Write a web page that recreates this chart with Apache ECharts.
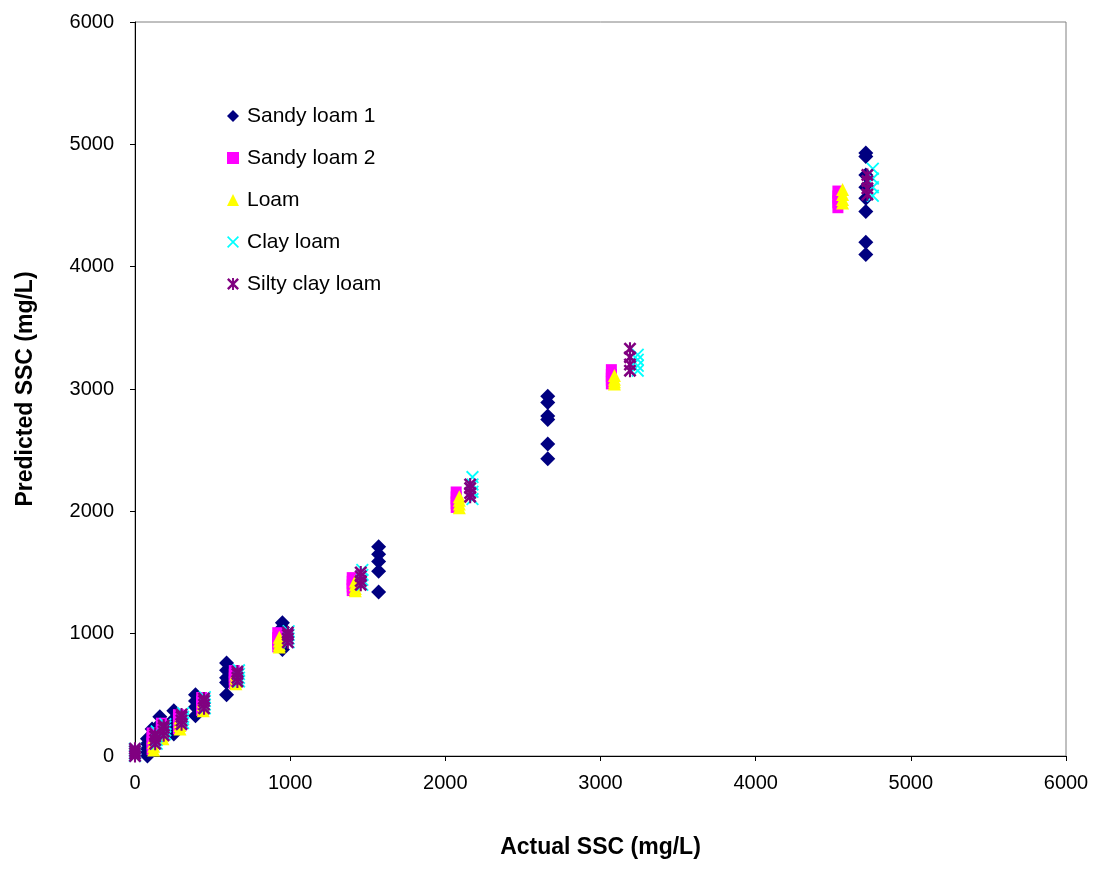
<!DOCTYPE html>
<html>
<head>
<meta charset="utf-8">
<script src="https://cdn.jsdelivr.net/npm/echarts@6/dist/echarts.min.js"></script>
<style>
  html, body { margin: 0; padding: 0; background: #ffffff; }
  #chart { width: 1104px; height: 869px; }
</style>
</head>
<body>
<div id="chart"></div>
<script>
// Axis ticks (mg/L)
const axisTicks = [0, 1000, 2000, 3000, 4000, 5000, 6000];

// Each group: [actual SSC, [predicted SSC replicates]]
const sandyLoam1 = [
  [80, [0, 30, 60, 100, 140]],
  [110, [80, 150, 220]],
  [160, [140, 200, 260, 320]],
  [250, [180, 240, 300, 370]],
  [390, [330, 400, 450, 500]],
  [590, [500, 600, 640, 700, 760]],
  [950, [870, 920, 970, 1010, 1050, 1090]],
  [1570, [1340, 1510, 1590, 1650, 1710]],
  [2660, [2430, 2550, 2750, 2780, 2890, 2940]],
  [4710, [4100, 4200, 4450, 4560, 4650, 4750, 4900, 4930]]
];
const sandyLoam2 = [
  [110, [60, 100, 140, 180]],
  [170, [160, 200, 240, 260]],
  [280, [230, 260, 300, 330]],
  [430, [380, 410, 440, 470]],
  [640, [600, 630, 660, 690]],
  [920, [900, 930, 960, 1000]],
  [1400, [1360, 1390, 1420, 1450]],
  [2070, [2040, 2070, 2110, 2150]],
  [3070, [3050, 3080, 3110, 3150]],
  [4530, [4490, 4530, 4570, 4610]]
];
const loam = [
  [120, [50, 80, 110, 150]],
  [180, [140, 170, 200, 240]],
  [290, [220, 250, 280, 310]],
  [440, [370, 390, 420, 450]],
  [650, [590, 610, 640, 670]],
  [930, [890, 910, 940, 970]],
  [1420, [1350, 1370, 1400, 1430]],
  [2090, [2030, 2060, 2090, 2120]],
  [3090, [3040, 3060, 3080, 3110]],
  [4560, [4520, 4550, 4590, 4630]]
];
const clayLoam = [
  [0, [0, 20, 40, 60]],
  [140, [100, 130, 160, 200]],
  [195, [180, 210, 240, 260]],
  [310, [270, 300, 320, 350]],
  [450, [390, 420, 450, 480]],
  [670, [610, 640, 670, 700]],
  [990, [930, 960, 990, 1020]],
  [1465, [1400, 1440, 1480, 1520]],
  [2175, [2100, 2160, 2220, 2280]],
  [3240, [3150, 3190, 3240, 3280]],
  [4755, [4580, 4650, 4720, 4800]]
];
const siltyClayLoam = [
  [0, [0, 20, 40, 60]],
  [130, [100, 130, 160, 180]],
  [185, [170, 200, 230, 250]],
  [300, [260, 290, 320, 340]],
  [445, [390, 420, 450, 470]],
  [660, [610, 640, 670, 690]],
  [985, [930, 960, 990, 1010]],
  [1455, [1400, 1430, 1470, 1500]],
  [2160, [2120, 2150, 2190, 2220]],
  [3190, [3150, 3200, 3260, 3330]],
  [4720, [4590, 4640, 4700, 4750]]
];

const seriesNames = ['Sandy loam 1', 'Sandy loam 2', 'Loam', 'Clay loam', 'Silty clay loam'];
const seriesColors = ['#000080', '#ff00ff', '#ffff00', '#00ffff', '#800080'];

const toPoints = groups => groups.flatMap(([x, ys]) => ys.map(y => [x, y]));

// Filled outlines for the "x" and asterisk markers
const crossPath = 'path://M0,1L1,0L10,9L9,10ZM9,0L10,1L1,10L0,9Z';
const starPath = 'path://M0,1.4L1.4,0L10,8.6L8.6,10ZM8.6,0L10,1.4L1.4,10L0,8.6ZM4.2,0L5.8,0L5.8,10L4.2,10Z';

const symbols = ['diamond', 'rect', 'triangle', crossPath, starPath];
const sizes = [[15, 15], [11, 13], [13, 13], [13, 13], [13, 13]];
const datasets = [sandyLoam1, sandyLoam2, loam, clayLoam, siltyClayLoam];

const font = '"Liberation Sans", Arial, sans-serif';

const chart = echarts.init(document.getElementById('chart'), null, { renderer: 'canvas' });

chart.setOption({
  animation: false,
  backgroundColor: '#ffffff',
  grid: {
    left: 135, right: 38, top: 22, bottom: 113,
    show: true, borderColor: '#808080', borderWidth: 1
  },
  legend: {
    orient: 'vertical',
    left: 222, top: 99,
    itemWidth: 12, itemHeight: 12,
    itemGap: 18,
    data: seriesNames,
    textStyle: { fontFamily: font, fontSize: 21, color: '#000', lineHeight: 24, padding: [0, 0, 0, 3] }
  },
  xAxis: {
    type: 'value',
    min: axisTicks[0], max: axisTicks[axisTicks.length - 1], interval: 1000,
    name: 'Actual SSC (mg/L)',
    nameLocation: 'middle', nameGap: 80,
    nameTextStyle: { fontFamily: font, fontSize: 23, fontWeight: 'bold', color: '#000' },
    axisLine: { show: true, lineStyle: { color: '#000', width: 1 } },
    axisTick: { show: true, inside: false, length: 5, lineStyle: { color: '#000' } },
    axisLabel: { fontFamily: font, fontSize: 20, color: '#000', margin: 17, formatter: v => String(v) },
    splitLine: { show: false }
  },
  yAxis: {
    type: 'value',
    min: axisTicks[0], max: axisTicks[axisTicks.length - 1], interval: 1000,
    name: 'Predicted SSC (mg/L)',
    nameLocation: 'middle', nameGap: 98,
    nameTextStyle: { fontFamily: font, fontSize: 23, fontWeight: 'bold', color: '#000' },
    axisLine: { show: true, lineStyle: { color: '#000', width: 1 } },
    axisTick: { show: true, inside: false, length: 5, lineStyle: { color: '#000' } },
    axisLabel: { fontFamily: font, fontSize: 20, color: '#000', margin: 21, formatter: v => String(v) },
    splitLine: { show: false }
  },
  series: datasets.map((d, i) => ({
    name: seriesNames[i],
    type: 'scatter',
    symbol: symbols[i],
    symbolSize: sizes[i],
    itemStyle: { color: seriesColors[i], opacity: 1 },
    data: toPoints(d),
    z: 2 + i
  }))
});
</script>
</body>
</html>
